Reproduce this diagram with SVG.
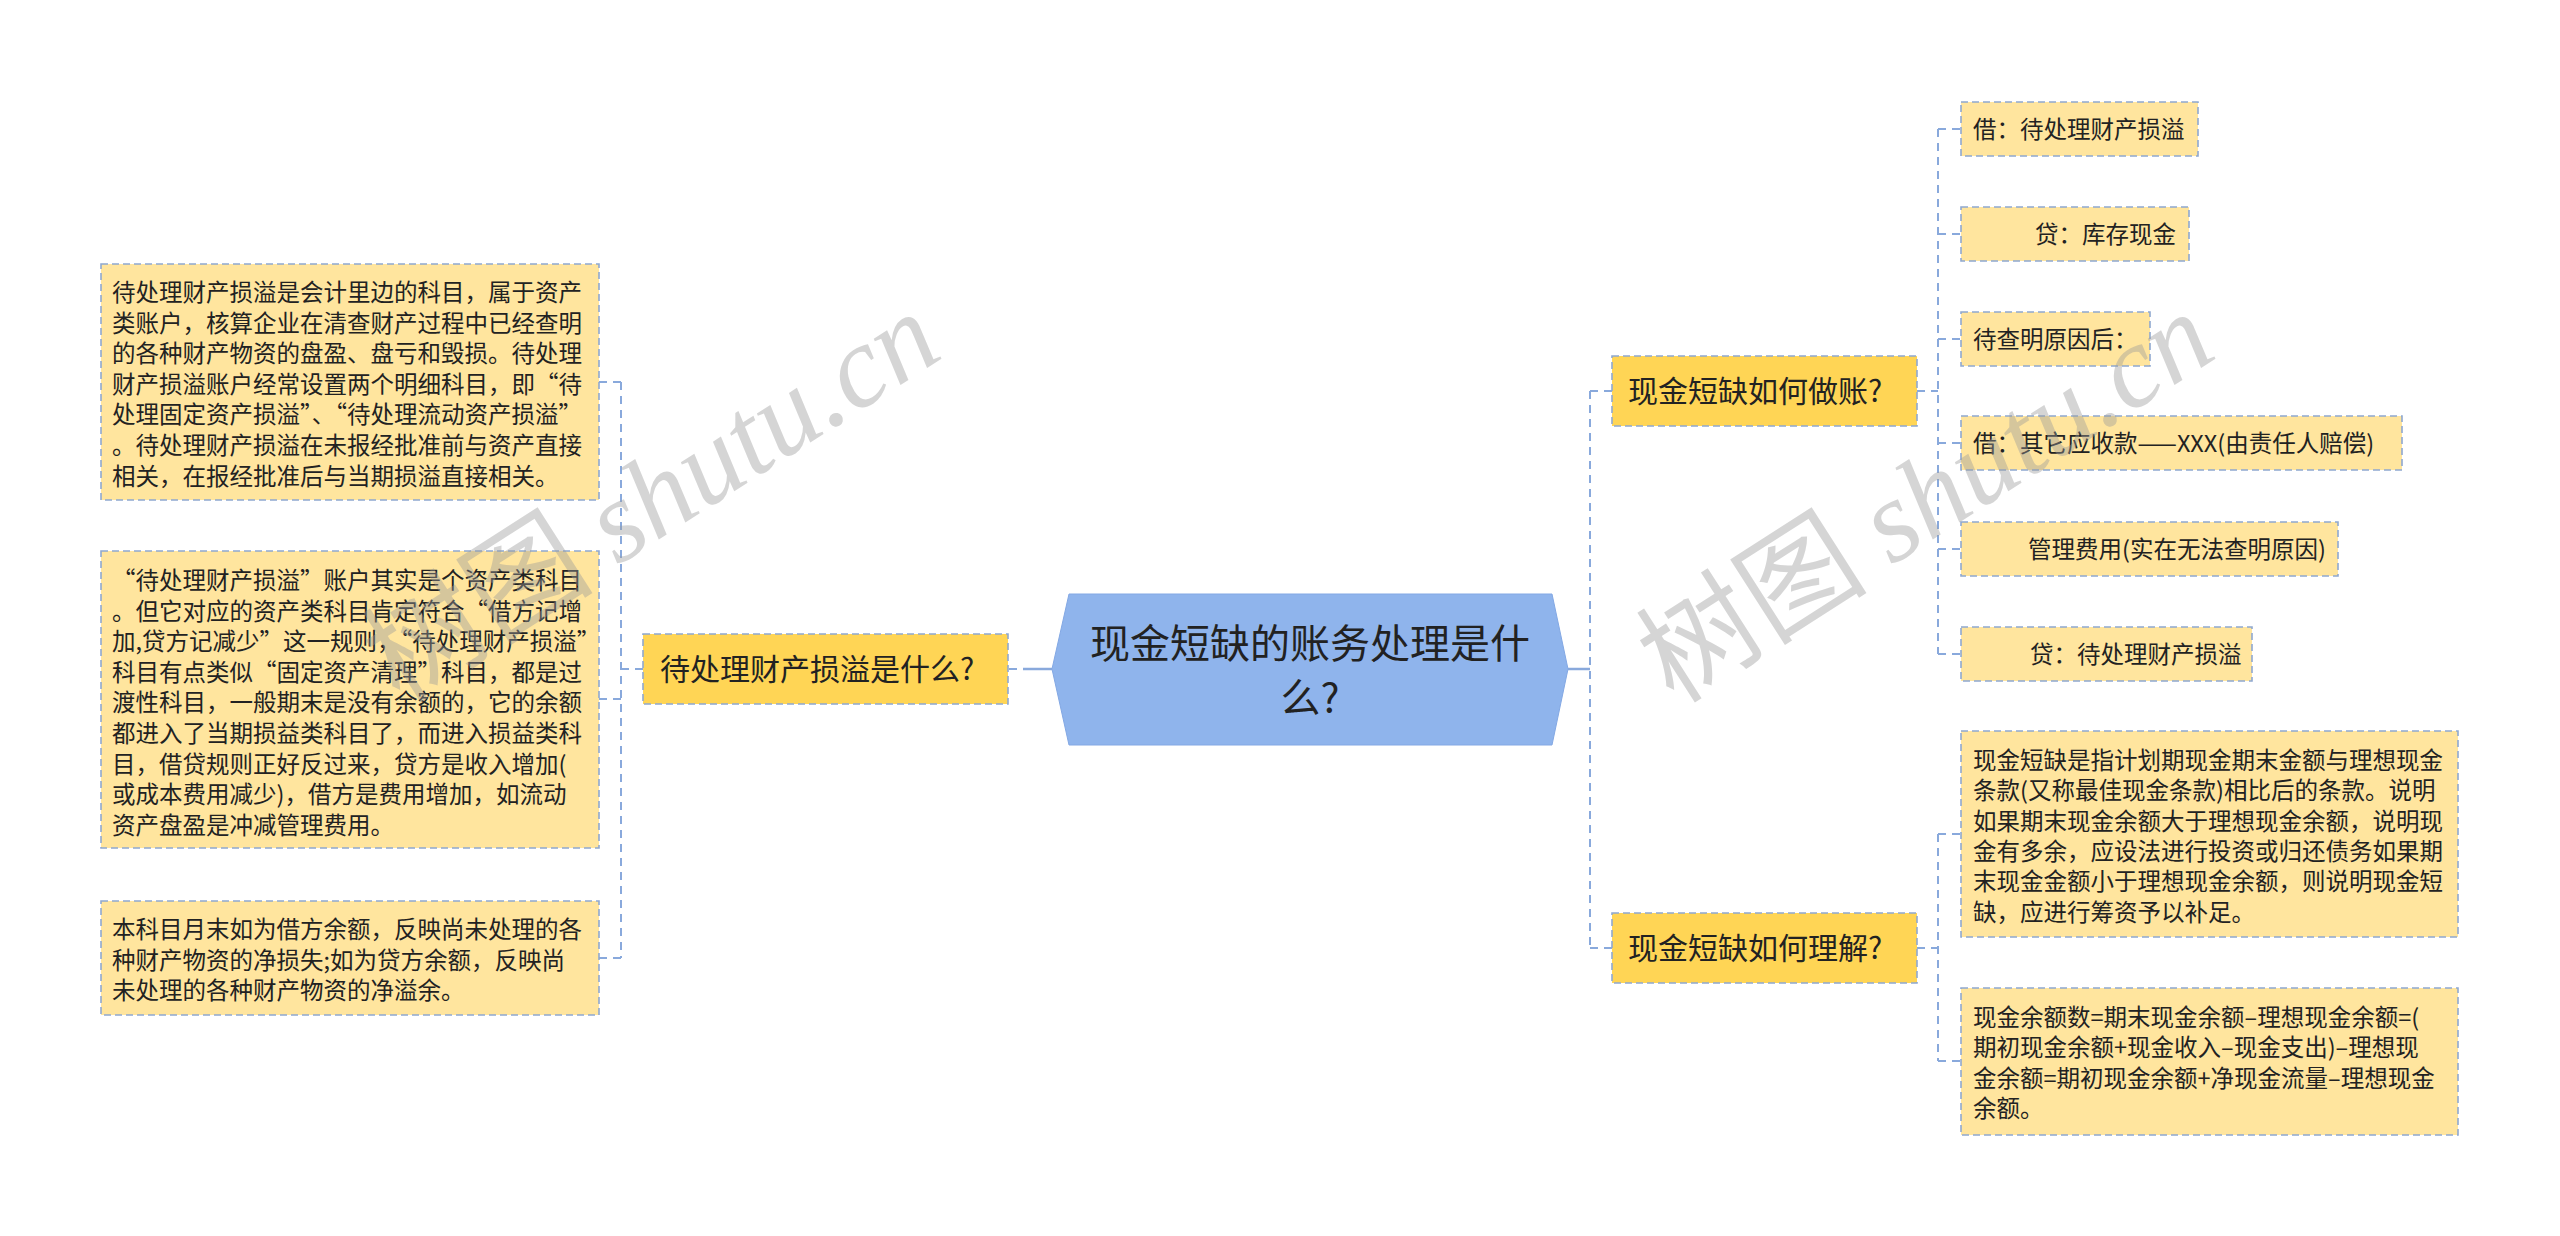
<svg xmlns="http://www.w3.org/2000/svg" width="2560" height="1236" viewBox="0 0 2560 1236">
<style>
text{font-family:"Noto Sans CJK SC","Liberation Sans",sans-serif;fill:#222;}
.t{font-size:23.5px;}
.tl{font-size:30px;}
.tc{font-size:40px;}
.leaf{fill:#FFE59E;stroke:#8FA8D0;stroke-width:1.6;stroke-dasharray:7 4;}
.lv1{fill:#FFD555;stroke:#8FA8D0;stroke-width:1.6;stroke-dasharray:7 4;}
.dash{fill:none;stroke:#89A9DC;stroke-width:2;stroke-dasharray:8 6;}
.solid{fill:none;stroke:#89A9DC;stroke-width:2.5;}
.wm{font-size:116px;fill:#9a9a9a;fill-opacity:0.42;}
.wm tspan.s{font-family:"Liberation Serif",serif;font-style:italic;}
</style>
<rect width="2560" height="1236" fill="#ffffff"/>

<g id="connectors">
  <path class="solid" d="M1052 669 H1023"/>
  <path class="dash" d="M1017 669 H1009"/>
  <path class="dash" d="M643 669 H621"/>
  <path class="dash" d="M621 382 V958"/>
  <path class="dash" d="M599 382 H621"/>
  <path class="dash" d="M599 699 H621"/>
  <path class="dash" d="M599 958 H621"/>
  <path class="solid" d="M1568 669 H1590"/>
  <path class="dash" d="M1590 391 V948"/>
  <path class="dash" d="M1590 391 H1612"/>
  <path class="dash" d="M1590 948 H1612"/>
  <path class="dash" d="M1917 391 H1938"/>
  <path class="dash" d="M1938 129 V654"/>
  <path class="dash" d="M1938 129 H1961"/>
  <path class="dash" d="M1938 234 H1961"/>
  <path class="dash" d="M1938 339 H1961"/>
  <path class="dash" d="M1938 443 H1961"/>
  <path class="dash" d="M1938 549 H1961"/>
  <path class="dash" d="M1938 654 H1961"/>
  <path class="dash" d="M1917 948 H1938"/>
  <path class="dash" d="M1938 834 V1061"/>
  <path class="dash" d="M1938 834 H1961"/>
  <path class="dash" d="M1938 1061 H1961"/>
</g>

<g id="center">
  <polygon points="1052,669 1069,594 1552,594 1568,669 1552,745 1069,745" fill="#8FB4EC" stroke="#83A8E4" stroke-width="1"/>
  <text class="tc" x="1310" y="658" text-anchor="middle">现金短缺的账务处理是什</text>
  <text class="tc" x="1310" y="712" text-anchor="middle">么?</text>
</g>

<g id="n-dcl">
  <rect class="lv1" x="643" y="634" width="365" height="70"/>
  <text class="tl" x="660" y="680">待处理财产损溢是什么?</text>
</g>

<g id="n-l1">
  <rect class="leaf" x="101" y="264" width="498" height="236"/>
  <text class="t" x="112" y="301">待处理财产损溢是会计里边的科目，属于资产</text>
  <text class="t" x="112" y="331.6">类账户，核算企业在清查财产过程中已经查明</text>
  <text class="t" x="112" y="362.2">的各种财产物资的盘盈、盘亏和毁损。待处理</text>
  <text class="t" x="112" y="392.8">财产损溢账户经常设置两个明细科目，即“待</text>
  <text class="t" x="112" y="423.4">处理固定资产损溢”、“待处理流动资产损溢”</text>
  <text class="t" x="112" y="454">。待处理财产损溢在未报经批准前与资产直接</text>
  <text class="t" x="112" y="484.6">相关，在报经批准后与当期损溢直接相关。</text>
</g>

<g id="n-l2">
  <rect class="leaf" x="101" y="551" width="498" height="297"/>
  <text class="t" x="112" y="589">“待处理财产损溢”账户其实是个资产类科目</text>
  <text class="t" x="112" y="619.6">。但它对应的资产类科目肯定符合“借方记增</text>
  <text class="t" x="112" y="650.2">加,贷方记减少”这一规则，“待处理财产损溢”</text>
  <text class="t" x="112" y="680.8">科目有点类似“固定资产清理”科目，都是过</text>
  <text class="t" x="112" y="711.4">渡性科目，一般期末是没有余额的，它的余额</text>
  <text class="t" x="112" y="742">都进入了当期损益类科目了，而进入损益类科</text>
  <text class="t" x="112" y="772.6">目，借贷规则正好反过来，贷方是收入增加(</text>
  <text class="t" x="112" y="803.2">或成本费用减少)，借方是费用增加，如流动</text>
  <text class="t" x="112" y="833.8">资产盘盈是冲减管理费用。</text>
</g>

<g id="n-l3">
  <rect class="leaf" x="101" y="901" width="498" height="114"/>
  <text class="t" x="112" y="938">本科目月末如为借方余额，反映尚未处理的各</text>
  <text class="t" x="112" y="968.6">种财产物资的净损失;如为贷方余额，反映尚</text>
  <text class="t" x="112" y="999.2">未处理的各种财产物资的净溢余。</text>
</g>

<g id="n-zz">
  <rect class="lv1" x="1612" y="356" width="305" height="70"/>
  <text class="tl" x="1628" y="402">现金短缺如何做账?</text>
</g>

<g id="n-lj">
  <rect class="lv1" x="1612" y="913" width="305" height="70"/>
  <text class="tl" x="1628" y="959">现金短缺如何理解?</text>
</g>

<g id="n-c1">
  <rect class="leaf" x="1961" y="102" width="237" height="54"/>
  <text class="t" x="1973" y="138">借：待处理财产损溢</text>
</g>
<g id="n-c2">
  <rect class="leaf" x="1961" y="207" width="228" height="54"/>
  <text class="t" x="2035" y="243">贷：库存现金</text>
</g>
<g id="n-c3">
  <rect class="leaf" x="1961" y="312" width="189" height="54"/>
  <text class="t" x="1973" y="348">待查明原因后：</text>
</g>
<g id="n-c4">
  <rect class="leaf" x="1961" y="416" width="441" height="54"/>
  <text class="t" x="1973" y="452">借：其它应收款——XXX(由责任人赔偿)</text>
</g>
<g id="n-c5">
  <rect class="leaf" x="1961" y="522" width="377" height="54"/>
  <text class="t" x="2028" y="558">管理费用(实在无法查明原因)</text>
</g>
<g id="n-c6">
  <rect class="leaf" x="1961" y="627" width="291" height="54"/>
  <text class="t" x="2030" y="663">贷：待处理财产损溢</text>
</g>

<g id="n-r1">
  <rect class="leaf" x="1961" y="731" width="497" height="206"/>
  <text class="t" x="1973" y="769">现金短缺是指计划期现金期末金额与理想现金</text>
  <text class="t" x="1973" y="799.3">条款(又称最佳现金条款)相比后的条款。说明</text>
  <text class="t" x="1973" y="829.6">如果期末现金余额大于理想现金余额，说明现</text>
  <text class="t" x="1973" y="859.9">金有多余，应设法进行投资或归还债务如果期</text>
  <text class="t" x="1973" y="890.2">末现金金额小于理想现金余额，则说明现金短</text>
  <text class="t" x="1973" y="920.5">缺，应进行筹资予以补足。</text>
</g>

<g id="n-r2">
  <rect class="leaf" x="1961" y="988" width="497" height="147"/>
  <text class="t" x="1973" y="1026">现金余额数=期末现金余额–理想现金余额=(</text>
  <text class="t" x="1973" y="1056.3">期初现金余额+现金收入–现金支出)–理想现</text>
  <text class="t" x="1973" y="1086.6">金余额=期初现金余额+净现金流量–理想现金</text>
  <text class="t" x="1973" y="1116.9">余额。</text>
</g>

<g id="watermark">
  <text class="wm" transform="translate(400,705) rotate(-32.6)">树图 <tspan class="s">shutu.cn</tspan></text>
  <text class="wm" transform="translate(1674,705) rotate(-32.6)">树图 <tspan class="s">shutu.cn</tspan></text>
</g>
</svg>
